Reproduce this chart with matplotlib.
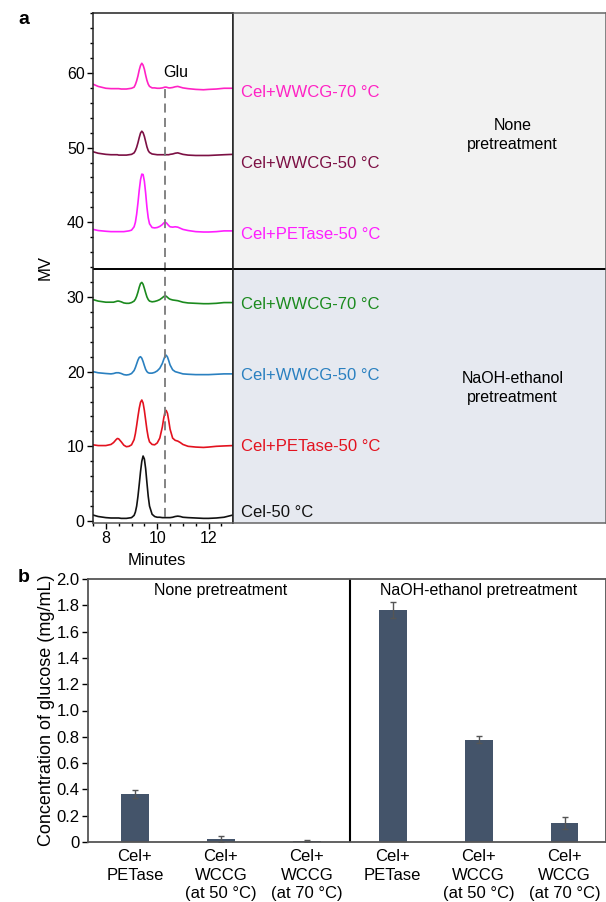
import numpy as np
import matplotlib
matplotlib.use("Agg")
import matplotlib.pyplot as plt
from matplotlib.ticker import MultipleLocator

plt.rcParams['font.family'] = ['Liberation Sans', 'DejaVu Sans']

# ---- panel a: chromatograms ----
t_min = [7.5, 7.7, 8.0, 8.2, 8.3, 8.4, 8.45, 8.5, 8.6, 8.7, 8.8, 8.9, 9.0, 9.1, 9.15,
         9.2, 9.25, 9.3, 9.35, 9.4, 9.45, 9.5, 9.55, 9.6, 9.65, 9.7, 9.8, 9.9, 10.0,
         10.1, 10.2, 10.25, 10.3, 10.35, 10.4, 10.45, 10.5, 10.6, 10.7, 10.8, 10.9,
         11.0, 11.2, 11.5, 11.8, 12.0, 12.3, 12.6, 12.95]

none_wwcg70 = [58.5, 58.2, 57.95, 57.9, 57.9, 57.9, 57.9, 57.9, 57.85, 57.85, 57.85, 57.9,
               57.95, 58.1, 58.45, 58.95, 59.6, 60.4, 61.0, 61.3, 61.05, 60.5, 59.7, 59.0,
               58.5, 58.2, 58.0, 58.0, 57.95, 57.95, 58.0, 58.05, 58.1, 58.1, 58.05, 58.0,
               58.0, 58.05, 58.15, 58.2, 58.1, 58.0, 57.9, 57.8, 57.75, 57.8, 57.85, 57.95, 57.95]
none_wwcg50 = [49.45, 49.25, 49.1, 49.05, 49.05, 49.05, 49.05, 49.0, 49.0, 49.0, 49.0, 49.05,
               49.1, 49.3, 49.6, 50.05, 50.65, 51.35, 51.95, 52.2, 52.0, 51.5, 50.8, 50.1,
               49.6, 49.35, 49.15, 49.1, 49.05, 49.05, 49.05, 49.05, 49.05, 49.05, 49.05, 49.05,
               49.1, 49.15, 49.25, 49.3, 49.2, 49.1, 49.0, 48.95, 48.95, 48.95, 49.0, 49.05, 49.1]
none_petase50 = [39.05, 38.9, 38.8, 38.75, 38.75, 38.75, 38.75, 38.75, 38.75, 38.75, 38.8, 38.85,
                 38.95, 39.4, 40.0, 41.1, 42.6, 44.3, 45.7, 46.45, 46.4, 45.5, 43.9, 42.0,
                 40.6, 39.8, 39.3, 39.25, 39.3, 39.45, 39.7, 39.9, 40.0, 39.95, 39.75, 39.55,
                 39.4, 39.35, 39.4, 39.35, 39.2, 39.05, 38.9, 38.75, 38.7, 38.7, 38.75, 38.85, 38.85]
naoh_wwcg70 = [29.65, 29.45, 29.3, 29.3, 29.3, 29.4, 29.45, 29.45, 29.35, 29.2, 29.15, 29.15,
               29.25, 29.45, 29.7, 30.1, 30.65, 31.3, 31.8, 31.95, 31.7, 31.15, 30.55, 30.0,
               29.65, 29.45, 29.35, 29.4, 29.5, 29.65, 29.9, 30.05, 30.15, 30.1, 29.95, 29.8,
               29.7, 29.6, 29.55, 29.5, 29.4, 29.3, 29.2, 29.15, 29.1, 29.1, 29.15, 29.25, 29.25]
naoh_wwcg50 = [20.0, 19.85, 19.75, 19.7, 19.75, 19.85, 19.85, 19.85, 19.75, 19.6, 19.55, 19.6,
               19.75, 20.15, 20.55, 21.05, 21.55, 21.9, 22.0, 21.8, 21.35, 20.8, 20.3, 20.0,
               19.85, 19.8, 19.8, 19.9, 20.1, 20.45, 21.1, 21.6, 22.05, 22.2, 21.95, 21.45,
               20.9, 20.25, 20.0, 19.9, 19.8, 19.7, 19.65, 19.6, 19.6, 19.6, 19.65, 19.7, 19.7]
naoh_petase50 = [10.2, 10.1, 10.1, 10.25, 10.5, 10.9, 11.05, 11.0, 10.6, 10.15, 9.95, 10.0,
                 10.2, 10.9, 11.7, 12.8, 14.0, 15.1, 15.9, 16.2, 15.8, 14.8, 13.5, 12.2,
                 11.2, 10.6, 10.25, 10.2, 10.45, 11.1, 12.6, 13.7, 14.55, 14.8, 14.4, 13.4,
                 12.3, 11.1, 10.8, 10.7, 10.5, 10.25, 10.0, 9.9, 9.85, 9.9, 10.0, 10.05, 10.1]
cel50 = [0.8, 0.6, 0.45, 0.4, 0.4, 0.4, 0.4, 0.4, 0.35, 0.35, 0.35, 0.4,
         0.45, 0.75, 1.2, 2.0, 3.3, 4.9, 6.6, 8.0, 8.7, 8.3, 7.0, 5.1,
         3.3, 2.0, 0.9, 0.6, 0.5, 0.5, 0.45, 0.45, 0.45, 0.45, 0.45, 0.45,
         0.45, 0.5, 0.6, 0.65, 0.6, 0.5, 0.45, 0.4, 0.35, 0.35, 0.4, 0.5, 0.8]

trace_labels = ['Cel+WWCG-70 °C', 'Cel+WWCG-50 °C', 'Cel+PETase-50 °C',
                'Cel+WWCG-70 °C', 'Cel+WWCG-50 °C', 'Cel+PETase-50 °C', 'Cel-50 °C']
glu_time = 10.32

# ---- panel b: glucose concentration ----
bar_labels = ['Cel+\nPETase', 'Cel+\nWCCG\n(at 50 °C)', 'Cel+\nWCCG\n(at 70 °C)',
              'Cel+\nPETase', 'Cel+\nWCCG\n(at 50 °C)', 'Cel+\nWCCG\n(at 70 °C)']
glucose = [0.365, 0.023, 0.008, 1.765, 0.778, 0.145]
glucose_err = [0.032, 0.022, 0.005, 0.06, 0.028, 0.043]

fig = plt.figure(figsize=(6.06, 9.02), dpi=100)
W, H = 606.0, 902.0

def box(x0, y0, x1, y1):
    # pixel box (top-left origin) -> figure fraction
    return [x0 / W, 1 - y1 / H, (x1 - x0) / W, (y1 - y0) / H]

ylo, yhi = -0.27, 68.03
split = 33.7

# chromatogram axes
ax1 = fig.add_axes(box(93, 13, 233, 523))
traces = [none_wwcg70, none_wwcg50, none_petase50, naoh_wwcg70, naoh_wwcg50, naoh_petase50, cel50]
colors = ['#ff22c4', '#7c1044', '#ff1eff', '#1b8a1e', '#2a80c0', '#e3121f', '#111111']
for y, c in zip(traces, colors):
    ax1.plot(t_min, y, color=c, lw=1.2)
ax1.plot([glu_time, glu_time], [0.5, 58.3], color='#7a7a7a', lw=1.3, dashes=(5, 3))
ax1.text(10.74, 60.0, 'Glu', ha='center', va='center', fontsize=11.5)
ax1.axhline(split, color='black', lw=1.4)
ax1.set_xlim(7.5, 12.95)
ax1.set_ylim(ylo, yhi)
ax1.set_xticks([8, 10, 12])
ax1.set_yticks([0, 10, 20, 30, 40, 50, 60])
ax1.xaxis.set_minor_locator(MultipleLocator(0.5))
ax1.yaxis.set_minor_locator(MultipleLocator(2))
ax1.tick_params(axis='both', which='major', direction='out', length=4, width=1, labelsize=11.5, pad=2)
ax1.tick_params(axis='both', which='minor', direction='out', length=2, width=1)
ax1.set_ylabel('MV', fontsize=12)
ax1.yaxis.set_label_coords(-0.286, 0.5)
ax1.set_xlabel('Minutes', fontsize=12)
ax1.xaxis.set_label_coords(0.457, -0.058)
for s in ax1.spines.values():
    s.set_linewidth(1.1)
    s.set_color('#222222')
ax1.spines['bottom'].set_color('#555555')

# label area
axl = fig.add_axes(box(233, 13, 606, 523))
axl.set_xlim(0, 1)
axl.set_ylim(ylo, yhi)
axl.axhspan(split, yhi, color='#f2f2f2', lw=0)
axl.axhspan(ylo, split, color='#e6e9f0', lw=0)
axl.axhline(split, color='black', lw=1.4)
label_y = [57.4, 47.9, 38.4, 29.0, 19.5, 10.0, 1.2]
for lab, yy, c in zip(trace_labels, label_y, colors):
    axl.text(0.0215, yy, lab, color=c, fontsize=12, ha='left', va='center')
axl.text(0.75, 51.7, 'None\npretreatment', ha='center', va='center', fontsize=11.5, linespacing=1.3)
axl.text(0.75, 17.8, 'NaOH-ethanol\npretreatment', ha='center', va='center', fontsize=11.5, linespacing=1.3)
axl.set_xticks([])
axl.set_yticks([])
for s in axl.spines.values():
    s.set_color('#666666')
    s.set_linewidth(1.1)
axl.spines['left'].set_color('#222222')

# bar axes
ax2 = fig.add_axes(box(88, 579, 606, 842))
x = np.arange(len(glucose))
ax2.bar(x, glucose, width=0.325, color='#44546a', yerr=glucose_err,
        error_kw=dict(ecolor='#555555', elinewidth=1, capsize=2.5, capthick=1))
ax2.axvline(2.5, color='black', lw=1.5)
ax2.set_xlim(-0.547, 5.483)
ax2.set_ylim(0, 2.0)
ax2.set_yticks(np.arange(0, 2.01, 0.2))
ax2.set_yticklabels(['0'] + ['%.1f' % v for v in np.arange(0.2, 2.01, 0.2)])
ax2.set_xticks(x)
ax2.set_xticklabels(bar_labels, fontsize=12, linespacing=1.3)
ax2.tick_params(axis='x', length=0, pad=5)
ax2.tick_params(axis='y', direction='out', length=4, width=1, labelsize=12, pad=2)
ax2.set_ylabel('Concentration of glucose (mg/mL)', fontsize=13)
ax2.yaxis.set_label_coords(-0.064, 0.5)
ax2.text(1.0, 1.909, 'None pretreatment', ha='center', va='center', fontsize=11.5)
ax2.text(4.0, 1.909, 'NaOH-ethanol pretreatment', ha='center', va='center', fontsize=11.5)
for s in ax2.spines.values():
    s.set_color('#555555')
    s.set_linewidth(1.3)

fig.text(18 / W, 1 - 20 / H, 'a', fontsize=14, fontweight='bold', ha='left', va='center')
fig.text(18 / W, 1 - 578 / H, 'b', fontsize=14, fontweight='bold', ha='left', va='center')

fig.savefig('out.png', dpi=100)
